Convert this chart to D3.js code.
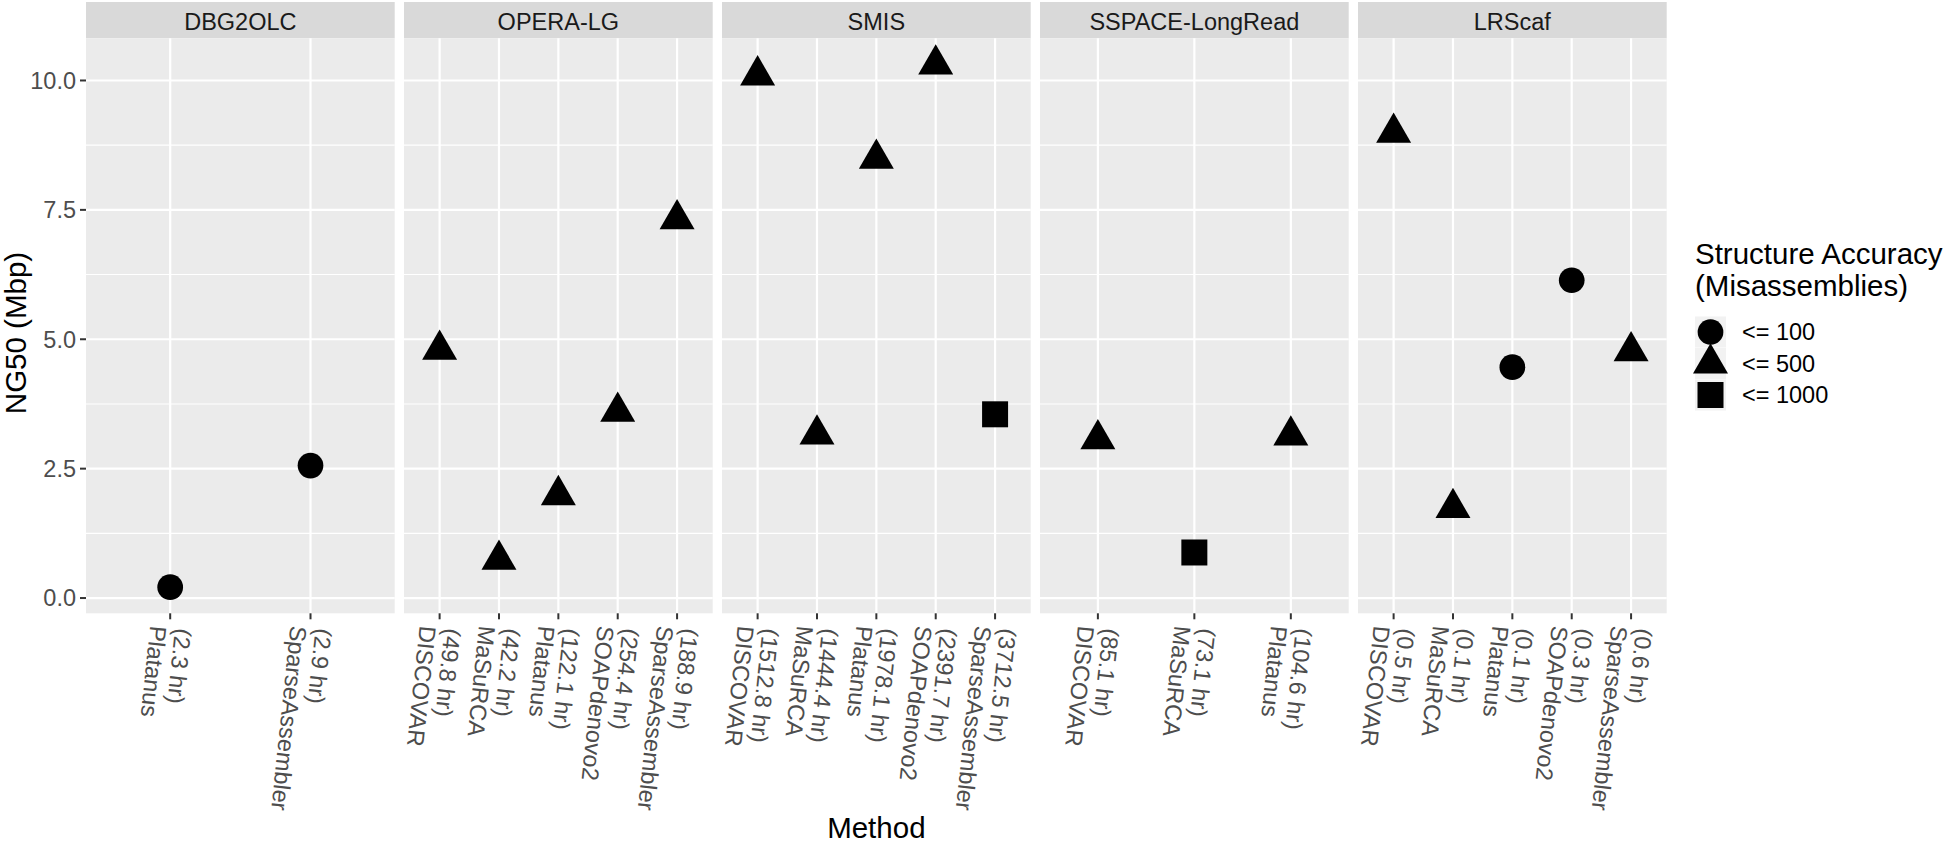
<!DOCTYPE html>
<html><head><meta charset="utf-8">
<script src="https://cdn.jsdelivr.net/npm/d3@7"></script>
<style>
body{margin:0;background:#fff}
text{font-family:"Liberation Sans",Arial,Helvetica,sans-serif}
</style>
</head><body>
<svg id="chart" width="1946" height="843"></svg>
<script>
// ---------------- data ----------------
const facets = ["DBG2OLC", "OPERA-LG", "SMIS", "SSPACE-LongRead", "LRScaf"];
const accuracyClasses = ["<= 100", "<= 500", "<= 1000"];
const yTicks = [0, 2.5, 5, 7.5, 10];
const yMinorTicks = [1.25, 3.75, 6.25, 8.75];

const dbgMethods = ["Platanus", "SparseAssembler"];
const dbgHours = ["2.3", "2.9"];
const dbgNG50 = [0.21, 2.56];
const dbgAccuracy = ["<= 100", "<= 100"];

const operaMethods = ["DISCOVAR", "MaSuRCA", "Platanus", "SOAPdenovo2", "SparseAssembler"];
const operaHours = ["49.8", "42.2", "122.1", "254.4", "188.9"];
const operaNG50 = [4.80, 0.74, 1.99, 3.60, 7.32];
const operaAccuracy = ["<= 500", "<= 500", "<= 500", "<= 500", "<= 500"];

const smisMethods = ["DISCOVAR", "MaSuRCA", "Platanus", "SOAPdenovo2", "SparseAssembler"];
const smisHours = ["1512.8", "1444.4", "1978.1", "2391.7", "3712.5"];
const smisNG50 = [10.10, 3.16, 8.49, 10.31, 3.55];
const smisAccuracy = ["<= 500", "<= 500", "<= 500", "<= 500", "<= 1000"];

const sspaceMethods = ["DISCOVAR", "MaSuRCA", "Platanus"];
const sspaceHours = ["85.1", "73.1", "104.6"];
const sspaceNG50 = [3.07, 0.88, 3.14];
const sspaceAccuracy = ["<= 500", "<= 1000", "<= 500"];

const lrscafMethods = ["DISCOVAR", "MaSuRCA", "Platanus", "SOAPdenovo2", "SparseAssembler"];
const lrscafHours = ["0.5", "0.1", "0.1", "0.3", "0.6"];
const lrscafNG50 = [8.99, 1.74, 4.46, 6.14, 4.77];
const lrscafAccuracy = ["<= 500", "<= 500", "<= 100", "<= 100", "<= 500"];

const facetTable = [
  [dbgMethods, dbgHours, dbgNG50, dbgAccuracy],
  [operaMethods, operaHours, operaNG50, operaAccuracy],
  [smisMethods, smisHours, smisNG50, smisAccuracy],
  [sspaceMethods, sspaceHours, sspaceNG50, sspaceAccuracy],
  [lrscafMethods, lrscafHours, lrscafNG50, lrscafAccuracy]
].map((d, i) => ({
  facet: facets[i],
  points: d[0].map((m, j) => ({method: m, hours: d[1][j], ng50: d[2][j], acc: d[3][j]}))
}));

// ---------------- layout ----------------
const svg = d3.select("#chart");
const panelLeft = 86, panelRight = 1666.7;
const stripTop = 2, panelTop = 38.3, panelBottom = 613.3;
const fontTick = 23.5, fontXTick = 23.5, fontTitle = 29.5;
const tickGray = "#4D4D4D";

const allVals = facetTable.flatMap(f => f.points.map(p => p.ng50));
const yMin = d3.min(allVals), yMax = d3.max(allVals);
const yPad = (yMax - yMin) * 0.05;
const y = d3.scaleLinear().domain([yMin - yPad, yMax + yPad]).range([panelBottom, panelTop]);

const fx = d3.scaleBand().domain(facets).range([panelLeft, panelRight]).paddingInner(9.3 / 318).paddingOuter(0);

const shape = d3.scaleOrdinal().domain(accuracyClasses).range([d3.symbolCircle, d3.symbolTriangle, d3.symbolSquare]);
const shapeSize = d3.scaleOrdinal().domain(accuracyClasses).range([519, 530, 676]);
const symbolPath = c => d3.symbol().type(shape(c)).size(shapeSize(c))();

// ---------------- panels ----------------
facetTable.forEach(f => {
  const x0 = fx(f.facet), w = fx.bandwidth();
  const x = d3.scalePoint().domain(f.points.map(p => p.method)).range([x0, x0 + w]).padding(0.6);
  const g = svg.append("g");

  // strip
  g.append("rect").attr("x", x0).attr("y", stripTop).attr("width", w).attr("height", panelTop - stripTop).attr("fill", "#D9D9D9");
  g.append("text").attr("x", x0 + w / 2).attr("y", 29.5).attr("text-anchor", "middle")
    .attr("font-size", fontTick).attr("fill", "#1A1A1A").text(f.facet);

  // panel background
  g.append("rect").attr("x", x0).attr("y", panelTop).attr("width", w).attr("height", panelBottom - panelTop).attr("fill", "#EBEBEB");

  // grid
  g.selectAll(".ymin").data(yMinorTicks).join("line")
    .attr("x1", x0).attr("x2", x0 + w).attr("y1", d => y(d)).attr("y2", d => y(d))
    .attr("stroke", "#fff").attr("stroke-width", 1.1);
  g.selectAll(".ymaj").data(yTicks).join("line")
    .attr("x1", x0).attr("x2", x0 + w).attr("y1", d => y(d)).attr("y2", d => y(d))
    .attr("stroke", "#fff").attr("stroke-width", 2.2);
  g.selectAll(".xmaj").data(x.domain()).join("line")
    .attr("x1", d => x(d)).attr("x2", d => x(d)).attr("y1", panelTop).attr("y2", panelBottom)
    .attr("stroke", "#fff").attr("stroke-width", 2.2);

  // points
  g.selectAll(".pt").data(f.points).join("path")
    .attr("transform", d => `translate(${x(d.method)},${y(d.ng50)})`)
    .attr("d", d => symbolPath(d.acc)).attr("fill", "#000");

  // x axis ticks
  g.selectAll(".xt").data(x.domain()).join("line")
    .attr("x1", d => x(d)).attr("x2", d => x(d)).attr("y1", panelBottom).attr("y2", panelBottom + 6)
    .attr("stroke", "#333").attr("stroke-width", 2);

  // x tick labels (rotated, two lines)
  const lab = g.selectAll(".xl").data(f.points).join("text")
    .attr("transform", d => `translate(${x(d.method)},${panelBottom + 14}) rotate(96)`)
    .attr("font-size", fontXTick).attr("fill", tickGray).attr("text-anchor", "start");
  lab.append("tspan").attr("x", 0).attr("y", -5).text(d => `(${d.hours} hr)`);
  lab.append("tspan").attr("x", 0).attr("y", 20).text(d => d.method);
});

// ---------------- y axis ----------------
const ya = svg.append("g");
ya.selectAll("line").data(yTicks).join("line")
  .attr("x1", panelLeft - 6).attr("x2", panelLeft).attr("y1", d => y(d)).attr("y2", d => y(d))
  .attr("stroke", "#333").attr("stroke-width", 2);
ya.selectAll("text").data(yTicks).join("text")
  .attr("x", 76).attr("y", d => y(d) + 8.3).attr("text-anchor", "end")
  .attr("font-size", fontTick).attr("fill", tickGray).text(d3.format(".1f"));

// axis titles
svg.append("text").attr("transform", "translate(26,333) rotate(-90)").attr("text-anchor", "middle")
  .attr("font-size", fontTitle).attr("fill", "#000").text("NG50 (Mbp)");
svg.append("text").attr("x", (panelLeft + panelRight) / 2).attr("y", 838).attr("text-anchor", "middle")
  .attr("font-size", fontTitle).attr("fill", "#000").text("Method");

// ---------------- legend ----------------
const lg = svg.append("g");
lg.append("text").attr("x", 1695).attr("y", 264).attr("font-size", fontTitle).attr("fill", "#000").text("Structure Accuracy");
lg.append("text").attr("x", 1695).attr("y", 296).attr("font-size", fontTitle).attr("fill", "#000").text("(Misassemblies)");
const keyY = d3.scalePoint().domain(accuracyClasses).range([332, 395]);
const keys = lg.selectAll(".key").data(accuracyClasses).join("g")
  .attr("transform", d => `translate(1710.5,${keyY(d)})`);
keys.append("rect").attr("x", -15.5).attr("y", -15.5).attr("width", 31).attr("height", 31).attr("fill", "#F2F2F2");
keys.append("path").attr("d", d => symbolPath(d)).attr("fill", "#000");
keys.append("text").attr("x", 31.5).attr("y", 8.3).attr("font-size", fontTick).attr("fill", "#000").text(d => d);
</script>
</body></html>
